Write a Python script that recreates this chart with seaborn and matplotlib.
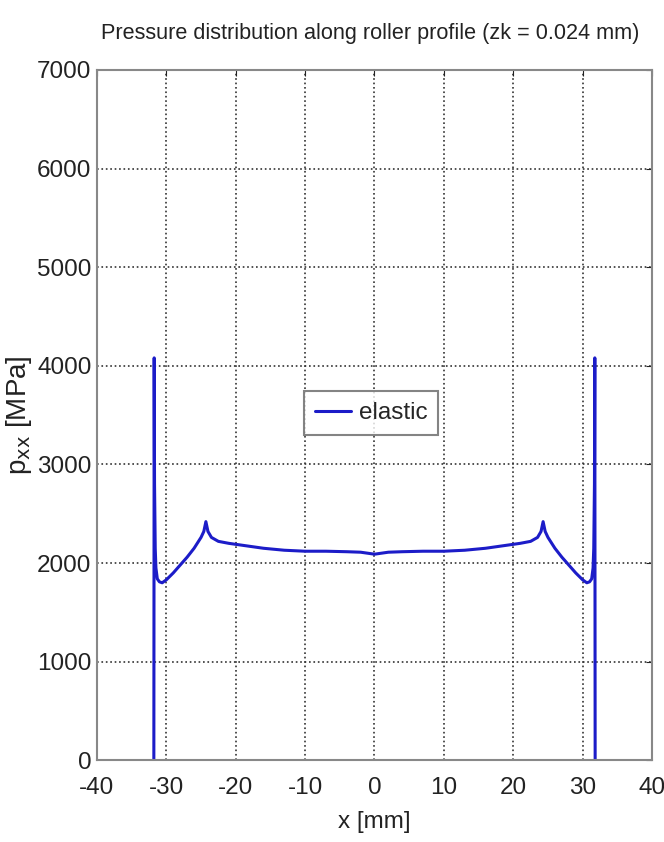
import matplotlib
matplotlib.use('Agg')
import matplotlib.pyplot as plt
import seaborn as sns
import pandas as pd

# pressure profile (left half, mirrored for the right)
x_left = [-31.8, -31.75, -31.7, -31.6, -31.5, -31.3, -31.0, -30.6, -30.0, -29.0,
          -28.0, -27.0, -26.0, -25.0, -24.6, -24.3, -24.0, -23.5, -22.5, -21.0,
          -19.0, -16.0, -13.0, -10.0, -7.0, -4.0, -2.0, -1.0]
p_left = [0, 4080, 2800, 2150, 1950, 1840, 1810, 1800, 1830, 1900,
          1980, 2060, 2150, 2260, 2320, 2420, 2320, 2260, 2220, 2200,
          2180, 2150, 2130, 2120, 2120, 2115, 2110, 2100]
x_mid = [0.0]
p_mid = [2090]

x_vals = x_left + x_mid + [-v for v in reversed(x_left)]
p_vals = p_left + p_mid + list(reversed(p_left))
df = pd.DataFrame({'x': x_vals, 'p': p_vals})

x_ticks = [-40, -30, -20, -10, 0, 10, 20, 30, 40]
y_ticks = [0, 1000, 2000, 3000, 4000, 5000, 6000, 7000]

sns.set_style('white')
plt.rcParams['font.family'] = ['Liberation Sans', 'DejaVu Sans']
plt.rcParams['axes.unicode_minus'] = False

fig, ax = plt.subplots(figsize=(6.64, 8.42), dpi=100)
fig.subplots_adjust(left=0.146, right=0.982, top=0.917, bottom=0.097)

sns.lineplot(data=df, x='x', y='p', ax=ax, color='#1c1cc8', linewidth=2.2,
             label='elastic', sort=False, estimator=None)

ax.set_xlim(-40, 40)
ax.set_ylim(0, 7000)
ax.set_xticks(x_ticks)
ax.set_yticks(y_ticks)
ax.tick_params(labelsize=17.5, length=4, direction='in', colors='#222222',
               top=True, right=True)
ax.tick_params(axis='x', pad=12)
ax.tick_params(axis='y', pad=4)
ax.grid(True, linestyle=':', color='#333333', linewidth=1.2)
for s in ax.spines.values():
    s.set_color('#888888')
    s.set_linewidth(1.5)

ax.set_title('Pressure distribution along roller profile (zk = 0.024 mm)',
             fontsize=15.6, color='#222222', pad=22, x=0.493)
ax.set_xlabel('x [mm]', fontsize=17.5, color='#222222', labelpad=9)
ax.set_ylabel(r'p$_{\mathrm{xx}}$ [MPa]', fontsize=20, color='#222222', labelpad=2)

leg = ax.legend(loc='center', bbox_to_anchor=(0.494, 0.503), fontsize=17.5,
                frameon=True, fancybox=False, handlelength=1.5,
                handletextpad=0.3, borderpad=0.45)
leg.get_frame().set_edgecolor('#666666')
leg.get_frame().set_linewidth(1.5)

fig.savefig('out.png', dpi=100)
